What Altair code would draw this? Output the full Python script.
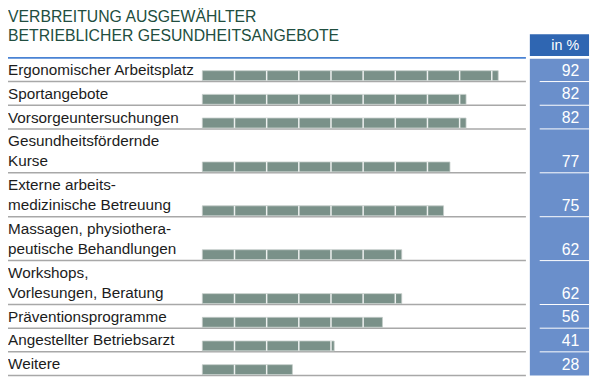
import altair as alt
import pandas as pd

# ---- data ----
title_lines = ["VERBREITUNG AUSGEWÄHLTER", "BETRIEBLICHER GESUNDHEITSANGEBOTE"]
unit_header = "in %"
labels = [
    "Ergonomischer Arbeitsplatz",
    "Sportangebote",
    "Vorsorgeuntersuchungen",
    "Gesundheitsfördernde\nKurse",
    "Externe arbeits-\nmedizinische Betreuung",
    "Massagen, physiothera-\npeutische Behandlungen",
    "Workshops,\nVorlesungen, Beratung",
    "Präventionsprogramme",
    "Angestellter Betriebsarzt",
    "Weitere",
]
values = [92, 82, 82, 77, 75, 62, 62, 56, 41, 28]
segment_step = 10

# ---- layout (pixel space of the plot area) ----
W, H = 592, 375
TOP = 48
SINGLE, DOUBLE = 24, 44.5
LINE_H = 20.5
BAR_START_PX = 197
PX_PER_UNIT = 3.26

rows, label_lines = [], []
y = TOP
for lab, v in zip(labels, values):
    parts = lab.split("\n")
    h = SINGLE if len(parts) == 1 else DOUBLE
    bottom = y + h
    rows.append(dict(label=lab, value=v, start=0, bottom=bottom,
                     bar_top=bottom - 11, bar_bot=bottom - 1,
                     value_y=bottom - 6, txt=str(v)))
    n = len(parts)
    for i, p in enumerate(parts):
        label_lines.append(dict(line=p, ly=bottom - 6.5 - (n - 1 - i) * LINE_H))
    y = bottom
df = pd.DataFrame(rows)
lines_df = pd.DataFrame(label_lines)
inner = df.iloc[:-1]

seps = pd.DataFrame([
    dict(t=t, bar_top=r["bar_top"], bar_bot=r["bar_bot"])
    for r in rows for t in range(segment_step, r["value"], segment_step)
])

one = pd.DataFrame({"a": [0]})
titles = pd.DataFrame({"t": title_lines, "ty": [12, 31]})

xs = alt.Scale(domain=[-BAR_START_PX / PX_PER_UNIT, (W - BAR_START_PX) / PX_PER_UNIT],
               nice=False, zero=False)
ys = alt.Scale(domain=[0, H], reverse=True, nice=False, zero=False)

def X(f):
    return alt.X(f, type="quantitative", scale=xs, axis=None)

def Y(f):
    return alt.Y(f, type="quantitative", scale=ys, axis=None)

FONT = "Liberation Sans"
LINE_R = 525

top_line = alt.Chart(one).mark_rule(color="#4a83d4", strokeWidth=2).encode(
    x=alt.value(0), x2=alt.value(LINE_R), y=alt.value(TOP))

row_lines = alt.Chart(df).mark_rule(color="#a8a8a8", strokeWidth=1.5).encode(
    x=alt.value(0), x2=alt.value(LINE_R), y=Y("bottom"))

bars = alt.Chart(df).mark_rect(color="#7a9189", stroke="#c3ccc8", strokeWidth=0.8).encode(
    x=X("start"), x2="value", y=Y("bar_top"), y2="bar_bot")

sep_rules = alt.Chart(seps).mark_rule(color="#eef1f0", strokeWidth=1.5).encode(
    x=X("t"), y=Y("bar_top"), y2="bar_bot")

label_text = alt.Chart(lines_df).mark_text(
    align="left", baseline="alphabetic", font=FONT, fontSize=15.5, color="#1c1c1c").encode(
    x=alt.value(0), y=Y("ly"), text="line")

COL_L, COL_R = 529, 589
col_bg = alt.Chart(one).mark_rect(color="#6a8fcb").encode(
    x=alt.value(COL_L), x2=alt.value(COL_R), y=alt.value(TOP + 1), y2=alt.value(df["bottom"].iloc[-1]))

head_bg = alt.Chart(one).mark_rect(color="#2f66b2").encode(
    x=alt.value(COL_L), x2=alt.value(COL_R), y=alt.value(24), y2=alt.value(46))

head_txt = alt.Chart(one).mark_text(
    align="right", baseline="middle", font=FONT, fontSize=14.5, color="white").encode(
    x=alt.value(579), y=alt.value(35.5), text=alt.value(unit_header))

col_lines = alt.Chart(inner).mark_rule(color="white", strokeWidth=1).encode(
    x=alt.value(539), x2=alt.value(COL_R), y=Y("bottom"))

val_txt = alt.Chart(df).mark_text(
    align="right", baseline="alphabetic", font=FONT, fontSize=16, color="white").encode(
    x=alt.value(579), y=Y("value_y"), text="txt")

title_txt = alt.Chart(titles).mark_text(
    align="left", baseline="alphabetic", font=FONT, fontSize=16, color="#214e40").encode(
    x=alt.value(0), y=Y("ty"), text="t")

chart = alt.layer(
    top_line, row_lines, bars, sep_rules, label_text,
    col_bg, head_bg, head_txt, col_lines, val_txt, title_txt
).properties(
    width=W, height=H, padding=0, autosize=alt.AutoSizeParams(type="none")
).configure_view(stroke=None)

chart.save("out.html", embed_options={"renderer": "svg", "actions": False})
